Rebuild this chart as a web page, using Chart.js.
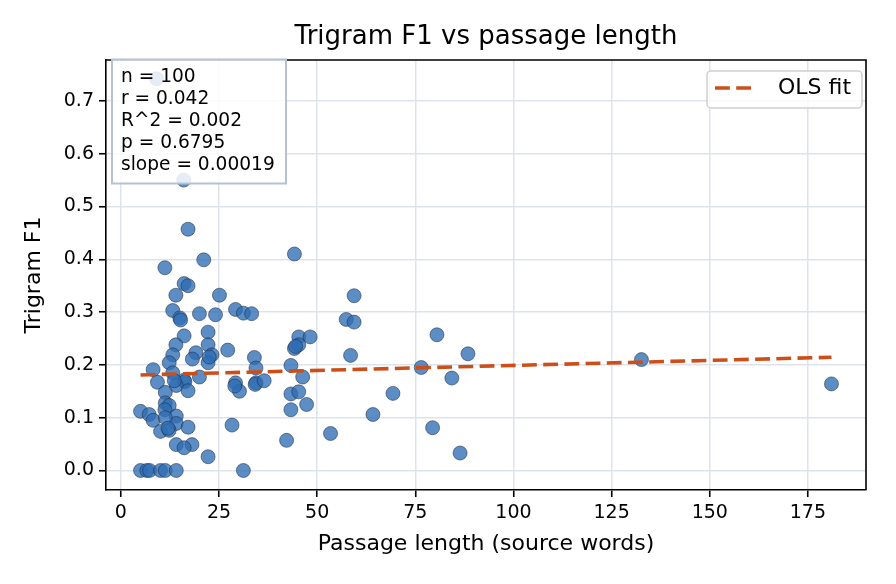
<!DOCTYPE html>
<html><head><meta charset="utf-8">
<script src="https://cdn.jsdelivr.net/npm/chart.js@4.4.0/dist/chart.umd.min.js"></script>
<style>html,body{margin:0;padding:0;background:#fff;}#wrap{width:896px;height:584px;}</style>
</head><body><div id="wrap"><canvas id="c" width="896" height="584"></canvas></div>
<script>
// ---- data ----
const passageLength = [
  9.1, 16.0, 17.1, 21.1, 11.2, 16.1, 17.1, 14.0, 25.1, 13.2,
  15.0, 15.2, 20.0, 24.1, 29.2, 31.2, 33.3, 16.1, 22.2, 14.0,
  22.2, 19.1, 13.2, 23.2, 27.2, 18.2, 12.3, 22.2, 34.0, 8.2,
  13.2, 20.0, 16.1, 16.3, 9.3, 14.1, 17.1, 11.3, 29.2, 30.2,
  34.4, 34.2, 11.3, 12.3, 5.0, 7.2, 11.2, 14.1, 8.2, 14.1,
  10.1, 12.3, 17.1, 28.3, 14.1, 18.1, 16.1, 22.2, 5.0, 6.6,
  7.3, 10.1, 11.3, 14.1, 31.2, 44.2, 59.4, 57.4, 59.4, 45.3,
  48.2, 44.2, 45.3, 58.5, 43.3, 34.4, 46.3, 36.5, 43.3, 45.3,
  47.3, 43.3, 64.2, 53.4, 42.2, 69.3, 80.5, 88.4, 76.5, 84.3,
  79.4, 86.4, 132.6, 181.0, 11.3, 29.0, 13.6, 22.5, 12.0, 44.5
];
const trigramF1 = [
  0.742, 0.550, 0.457, 0.399, 0.384, 0.354, 0.350, 0.332, 0.332, 0.303,
  0.289, 0.285, 0.297, 0.295, 0.305, 0.298, 0.297, 0.255, 0.262, 0.238,
  0.238, 0.223, 0.219, 0.219, 0.228, 0.211, 0.204, 0.204, 0.214, 0.191,
  0.185, 0.177, 0.171, 0.168, 0.167, 0.161, 0.151, 0.148, 0.166, 0.150,
  0.166, 0.163, 0.128, 0.123, 0.112, 0.106, 0.115, 0.103, 0.095, 0.089,
  0.074, 0.076, 0.082, 0.086, 0.049, 0.049, 0.043, 0.026, 0.000, 0.000,
  0.000, 0.000, 0.000, 0.000, 0.000, 0.410, 0.331, 0.286, 0.281, 0.253,
  0.253, 0.231, 0.238, 0.218, 0.199, 0.194, 0.177, 0.170, 0.145, 0.149,
  0.125, 0.115, 0.106, 0.070, 0.057, 0.146, 0.257, 0.221, 0.195, 0.175,
  0.081, 0.033, 0.210, 0.164, 0.100, 0.160, 0.170, 0.215, 0.080, 0.235
];
const fitIntercept = 0.180;
const fitSlope = 0.00019;
const fitXRange = [5, 181];
const xTicks = [0, 25, 50, 75, 100, 125, 150, 175];
const yTicks = [0.0, 0.1, 0.2, 0.3, 0.4, 0.5, 0.6, 0.7];
const statsLines = ["n = 100", "r = 0.042", "R^2 = 0.002", "p = 0.6795", "slope = 0.00019"];
const titleText = "Trigram F1 vs passage length";
const xLabel = "Passage length (source words)";
const yLabel = "Trigram F1";
const legendLabel = "OLS fit";

// ---- build ----
const FONT = "'DejaVu Sans', sans-serif";
const scatterPts = passageLength.map((x, i) => ({x: x, y: trigramF1[i]}));
const fitPts = fitXRange.map(x => ({x: x, y: fitIntercept + fitSlope * x}));
const FIT_COLOR = '#cc4f1a';
const FIT_DASH = [14.8, 6.4];
const FIT_W = 3.6;

const decor = {
  id: 'decor',
  afterDraw(chart) {
    const ctx = chart.ctx, a = chart.chartArea;
    ctx.save();
    ctx.strokeStyle = '#000'; ctx.lineWidth = 1.6;
    ctx.beginPath();
    ctx.moveTo(a.left, a.top); ctx.lineTo(a.right, a.top); ctx.lineTo(a.right, a.bottom);
    ctx.stroke();
    ctx.fillStyle = '#000';
    ctx.textAlign = 'center'; ctx.textBaseline = 'middle';
    ctx.font = '26px ' + FONT;
    ctx.fillText(titleText, (a.left + a.right) / 2, 37);
    ctx.font = '22px ' + FONT;
    ctx.fillText(xLabel, (a.left + a.right) / 2, 544);
    ctx.save();
    ctx.translate(34, (a.top + a.bottom) / 2);
    ctx.rotate(-Math.PI / 2);
    ctx.fillText(yLabel, 0, 0);
    ctx.restore();
    // stats box
    ctx.fillStyle = 'rgba(255,255,255,0.85)';
    ctx.strokeStyle = '#b4c2d3'; ctx.lineWidth = 2;
    ctx.beginPath(); ctx.rect(112, 59.5, 174, 124); ctx.fill(); ctx.stroke();
    ctx.fillStyle = '#000';
    ctx.textAlign = 'left'; ctx.textBaseline = 'middle';
    ctx.font = '18.6px ' + FONT;
    statsLines.forEach((s, i) => ctx.fillText(s, 121, 77 + i * 22));
    // legend
    const lx = 707, ly = 71, lw = 155, lh = 37, r = 4;
    ctx.fillStyle = 'rgba(255,255,255,0.8)';
    ctx.strokeStyle = '#d0d0d0'; ctx.lineWidth = 1.5;
    ctx.beginPath();
    ctx.moveTo(lx + r, ly); ctx.lineTo(lx + lw - r, ly); ctx.arcTo(lx + lw, ly, lx + lw, ly + r, r);
    ctx.lineTo(lx + lw, ly + lh - r); ctx.arcTo(lx + lw, ly + lh, lx + lw - r, ly + lh, r);
    ctx.lineTo(lx + r, ly + lh); ctx.arcTo(lx, ly + lh, lx, ly + lh - r, r);
    ctx.lineTo(lx, ly + r); ctx.arcTo(lx, ly, lx + r, ly, r);
    ctx.closePath(); ctx.fill(); ctx.stroke();
    ctx.strokeStyle = FIT_COLOR; ctx.lineWidth = FIT_W; ctx.setLineDash(FIT_DASH);
    ctx.beginPath(); ctx.moveTo(715, 88); ctx.lineTo(755, 88); ctx.stroke();
    ctx.setLineDash([]);
    ctx.fillStyle = '#000'; ctx.font = '22px ' + FONT;
    ctx.fillText(legendLabel, 778, 88);
    ctx.restore();
  }
};

new Chart(document.getElementById('c'), {
  type: 'scatter',
  data: {
    datasets: [
      {
        label: legendLabel, data: fitPts, showLine: true, order: 0,
        borderColor: FIT_COLOR, borderWidth: FIT_W, borderDash: FIT_DASH,
        pointRadius: 0, fill: false
      },
      {
        label: 'points', data: scatterPts, order: 1,
        backgroundColor: 'rgba(46,109,180,0.78)',
        borderColor: 'rgba(25,35,55,0.85)', borderWidth: 0.6,
        pointRadius: 7, pointHoverRadius: 7
      }
    ]
  },
  options: {
    responsive: false, animation: false, devicePixelRatio: 1,
    layout: {padding: {top: 60, right: 30, left: 0, bottom: 0}},
    plugins: {legend: {display: false}, tooltip: {enabled: false}, title: {display: false}},
    scales: {
      x: {
        type: 'linear', min: -3.8, max: 189.8,
        afterFit(s) { s.height = 94; },
        afterBuildTicks(s) { s.ticks = xTicks.map(v => ({value: v})); },
        ticks: {font: {family: FONT, size: 19}, color: '#000', padding: 5, maxRotation: 0,
                callback: v => String(v)},
        grid: {color: '#dde3ec', lineWidth: 1.5, tickLength: 7, tickColor: '#000', tickWidth: 1.6},
        border: {color: '#000', width: 1.6}
      },
      y: {
        type: 'linear', min: -0.037, max: 0.7775,
        afterFit(s) { s.width = 106; },
        afterBuildTicks(s) { s.ticks = yTicks.map(v => ({value: v})); },
        ticks: {font: {family: FONT, size: 19}, color: '#000', padding: 5,
                callback: v => Number(v).toFixed(1)},
        grid: {color: '#dde3ec', lineWidth: 1.5, tickLength: 7, tickColor: '#000', tickWidth: 1.6},
        border: {color: '#000', width: 1.6}
      }
    }
  },
  plugins: [decor]
});
</script></body></html>
